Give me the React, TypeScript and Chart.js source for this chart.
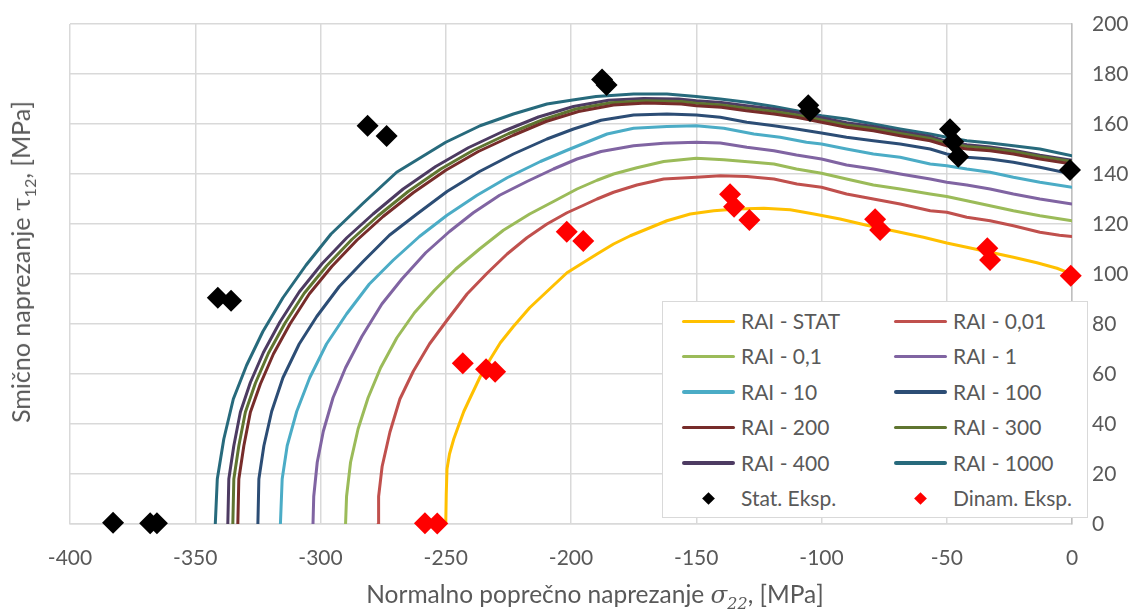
import React, { useEffect, useRef } from 'react';
import { Chart, registerables } from 'chart.js';

Chart.register(...registerables);

type P = [number, number];

// Axis ranges
const xRange: P = [-400, 0];
const yRange: P = [0, 200];
const xStep = 50;
const yStep = 20;

// Failure envelope curves (sigma22, tau12)
const raiStat: P[] = [
  [-250, 0], [-249.8, 12], [-249.5, 22], [-248.5, 28], [-246.8, 34], [-245, 39], [-242.8, 45], [-240, 51],
  [-236.2, 59], [-232.2, 66], [-228.2, 72.5], [-223, 79], [-216.5, 86.5], [-209.6, 93], [-201.6, 100.5],
  [-196, 104], [-189.6, 108], [-183, 112], [-176.3, 115.3], [-169.7, 118], [-161.7, 121.3], [-152.4, 124],
  [-143, 125.3], [-133.8, 126], [-123, 126.3], [-112.5, 125.7], [-103, 124], [-92.6, 122], [-82, 119.5],
  [-70, 117], [-59.3, 114.7], [-50, 112.4], [-42, 110.7], [-32.7, 108.7], [-23.4, 106.7], [-14, 104.5],
  [-6, 102.3], [0, 100],
];

const rai001: P[] = [
  [-277, 0], [-276.8, 11], [-275.4, 23], [-272.3, 36.7], [-268.3, 50], [-263, 61], [-256.5, 72], [-249.5, 81.5],
  [-241.5, 92], [-233.5, 100.3], [-225.5, 108], [-217.6, 114.5], [-209.6, 120], [-201.6, 124.5], [-195, 127.5],
  [-189.6, 130], [-183, 132.7], [-173.7, 135.6], [-163, 138], [-150, 138.7], [-140.4, 139.3], [-129.8, 139],
  [-119, 138], [-109.8, 136], [-100, 134.7], [-90, 132], [-79.3, 130], [-68.6, 128], [-56.6, 125.3],
  [-50, 124.7], [-42, 122.7], [-32.7, 121.3], [-23.4, 119.3], [-12.8, 116.7], [-5, 115.5], [0, 115],
];

const rai01: P[] = [
  [-290, 0], [-289.6, 11], [-288, 24.7], [-285, 38], [-281, 50.5], [-276, 62.5], [-269.5, 74.5], [-262.5, 84.5],
  [-254.5, 93.5], [-246, 102], [-236.5, 110], [-227, 117.5], [-216.5, 124], [-207, 129], [-197.6, 134],
  [-189.6, 137.5], [-183, 140], [-173.7, 142.5], [-163, 145], [-150, 146.3], [-139, 145.7], [-127, 144.7],
  [-119, 144], [-110, 142], [-100, 140.3], [-90, 138], [-79.3, 135.6], [-68.6, 134], [-56.6, 132], [-50, 131],
  [-42, 129.3], [-32.7, 127.3], [-23.4, 125.3], [-12.8, 123.3], [0, 121.3],
];

const rai1: P[] = [
  [-303, 0], [-302.7, 11], [-301.3, 24.7], [-298.9, 37], [-295, 50.5], [-290, 62.5], [-283.5, 75], [-275.5, 88],
  [-267.5, 98], [-258, 108.5], [-248.5, 117], [-239, 124.5], [-228.5, 131.5], [-217.6, 137], [-207, 142],
  [-197.6, 146], [-188, 149], [-175, 151.3], [-163, 152.3], [-150, 152.7], [-140.4, 152.4], [-129.8, 150.7],
  [-119, 149.3], [-110, 147.6], [-100, 146], [-90, 143.6], [-79.3, 142], [-68.6, 140], [-56.6, 138],
  [-50, 136.7], [-42, 135.6], [-32.7, 134], [-23.4, 132], [-12.8, 130], [0, 128],
];

const rai10: P[] = [
  [-316, 0], [-315.3, 18], [-313.3, 31.3], [-309.5, 45], [-304.3, 58.5], [-297.6, 72], [-289.6, 84], [-280.5, 96],
  [-271, 105.5], [-260.5, 115], [-249.5, 123.5], [-237.5, 131.5], [-225.5, 138.5], [-212.2, 145], [-201.6, 149.5],
  [-193, 153], [-185.6, 156], [-175, 158.3], [-161.7, 159], [-150, 159.3], [-139, 158.3], [-127, 156],
  [-116.5, 154.7], [-106, 152.7], [-100, 152], [-90, 150], [-79.3, 148], [-68.6, 146.7], [-56.6, 144],
  [-50, 143.3], [-42, 142], [-32.7, 140.7], [-23.4, 138.7], [-12.8, 136.7], [0, 134.7],
];

const rai100: P[] = [
  [-325, 0], [-324.6, 18], [-322.6, 31.3], [-319.5, 45], [-315, 58.5], [-308.5, 72], [-301.5, 83], [-292.5, 95],
  [-283, 105], [-272.5, 115.5], [-261.5, 124], [-249.5, 133], [-236.5, 141], [-223, 148], [-209.6, 154],
  [-199, 158], [-188, 161.5], [-175, 163.6], [-161.7, 164], [-150, 163.6], [-140.4, 162.7], [-129.8, 160.7],
  [-119, 159.3], [-110, 158], [-100, 156.4], [-90, 154.7], [-79.3, 153.3], [-68.6, 152], [-56.6, 150],
  [-50, 148], [-42, 146.7], [-32.7, 146], [-23.4, 144.7], [-12.8, 142.7], [0, 140],
];

const rai200: P[] = [
  [-333, 0], [-332.6, 18], [-330.6, 31.3], [-328, 44.7], [-324, 56], [-318.8, 68], [-312.2, 80], [-304.5, 92],
  [-295.5, 103], [-285.5, 113.5], [-275, 123], [-263, 132.5], [-250, 141.5], [-237, 149], [-223, 155.5],
  [-210, 161], [-197, 165], [-183, 167.6], [-170, 168.4], [-156, 168], [-150, 167.3], [-140, 166.7],
  [-130, 165.3], [-119, 164], [-110, 162.7], [-100, 160.7], [-90, 158.7], [-79.3, 157.3], [-68.6, 155.3],
  [-56.6, 153.3], [-50, 151.3], [-42, 150], [-32.7, 149.3], [-23.4, 148], [-12.8, 146], [0, 144],
];

const rai300: P[] = [
  [-335, 0], [-334.6, 18], [-332.6, 31.3], [-330, 44.7], [-326, 56.3], [-320.8, 68.3], [-314.2, 80.3],
  [-306.5, 92.3], [-297.5, 103.3], [-287.5, 113.8], [-277, 123.3], [-265, 133], [-252, 142], [-239, 149.5],
  [-225, 156.1], [-211, 161.8], [-198, 166], [-184, 168.5], [-170, 169.3], [-156, 169], [-150, 168.3],
  [-140, 167.6], [-130, 166.3], [-119, 165], [-110, 163.6], [-100, 161.6], [-90, 159.6], [-79.3, 158.2],
  [-68.6, 156.2], [-56.6, 154.2], [-50, 152.3], [-42, 151], [-32.7, 150.2], [-23.4, 149], [-12.8, 147], [0, 145],
];

const rai400: P[] = [
  [-337, 0], [-336.6, 18], [-334.6, 31.3], [-332, 44.7], [-328, 56.6], [-322.8, 68.6], [-316.2, 80.8],
  [-308.5, 92.8], [-299.5, 104], [-289.5, 114.5], [-279, 124], [-267, 134], [-254, 143], [-241, 150.5],
  [-227, 157.1], [-213, 162.8], [-199, 167], [-185, 169.5], [-171, 170.2], [-157, 170], [-150, 169.3],
  [-140, 168.6], [-130, 167.3], [-119, 166], [-110, 164.6], [-100, 162.5], [-90, 160.5], [-79.3, 159],
  [-68.6, 157], [-56.6, 155], [-50, 153], [-42, 151.7], [-32.7, 150.8], [-23.4, 149.5], [-12.8, 147.5], [0, 145.5],
];

const rai1000: P[] = [
  [-342, 0], [-341.2, 18], [-338.6, 34], [-334.8, 50], [-329.5, 63.5], [-323, 77], [-315, 90.5], [-305.8, 103.5],
  [-295.8, 116], [-283, 128.3], [-269.6, 140.7], [-250, 152.7], [-236.3, 159.3], [-223, 164], [-209.6, 168],
  [-200, 169.5], [-190, 171], [-175, 172], [-161.7, 172], [-150, 171], [-140.4, 170], [-129.8, 168.7],
  [-119, 167], [-110, 165.3], [-100, 163.3], [-90, 162], [-79.3, 160], [-68.6, 158], [-56.6, 156], [-50, 154.7],
  [-42, 153.3], [-32.7, 152.4], [-23.4, 151.3], [-12.8, 150], [0, 147.3],
];

// Experimental points
const statEksp: P[] = [
  [-382.8, 0.5], [-368, 0.3], [-365.3, 0.3], [-341, 90.5], [-335.7, 89.3], [-281.2, 159.3], [-273.6, 155.2],
  [-187.6, 177.8], [-185.8, 175.6], [-105.3, 167.5], [-104.6, 165.2], [-48.7, 157.9], [-47.4, 152.9],
  [-45.4, 146.9], [-0.8, 141.6],
];

const dinamEksp: P[] = [
  [-258.3, 0.3], [-253.4, 0.2], [-243.2, 64.3], [-233.9, 61.9], [-230.3, 60.9], [-201.7, 116.9], [-195.1, 113.2],
  [-136.5, 131.9], [-134.9, 126.9], [-128.8, 121.6], [-78.6, 121.9], [-76.6, 117.6], [-33.8, 110.3],
  [-32.7, 105.6], [-0.5, 99.3],
];

const seriesNames = [
  'RAI - STAT', 'RAI - 0,01', 'RAI - 0,1', 'RAI - 1', 'RAI - 10',
  'RAI - 100', 'RAI - 200', 'RAI - 300', 'RAI - 400', 'RAI - 1000',
];
const seriesColors = [
  '#FFC000', '#C0504D', '#9BBB59', '#8064A2', '#4BACC6',
  '#2C4D75', '#772C2A', '#5F7530', '#4D3B62', '#276A7C',
];
const seriesData: P[][] = [raiStat, rai001, rai01, rai1, rai10, rai100, rai200, rai300, rai400, rai1000];

const markerNames = ['Stat. Eksp.', 'Dinam. Eksp.'];
const markerColors = ['#000000', '#FF0000'];
const markerData: P[][] = [statEksp, dinamEksp];

const FONT = 'Lato, "Open Sans", sans-serif';
const TEXT = '#595959';

export default function App() {
  const ref = useRef<HTMLCanvasElement | null>(null);

  useEffect(() => {
    if (!ref.current) return;
    const datasets: any[] = [
      ...markerData.map((d, i) => ({
        label: markerNames[i],
        data: d.map(([x, y]) => ({ x, y })),
        showLine: false,
        pointStyle: 'rectRot',
        pointRadius: 11,
        pointHoverRadius: 11,
        pointBackgroundColor: markerColors[i],
        pointBorderWidth: 0,
        backgroundColor: markerColors[i],
        borderColor: markerColors[i],
        order: 0,
        clip: false,
      })),
      ...seriesData.map((d, i) => ({
        label: seriesNames[i],
        data: d.map(([x, y]) => ({ x, y })),
        showLine: true,
        borderColor: seriesColors[i],
        backgroundColor: seriesColors[i],
        borderWidth: 3,
        pointRadius: 0,
        tension: 0,
        fill: false,
        order: 1,
        borderCapStyle: 'round',
        borderJoinStyle: 'round',
      })),
    ];
    const chart = new Chart(ref.current, {
      type: 'scatter',
      data: { datasets },
      options: {
        responsive: false,
        animation: false,
        devicePixelRatio: 1,
        layout: { padding: { left: 70, top: 24, right: 0, bottom: 0 } },
        plugins: { legend: { display: false }, tooltip: { enabled: false }, title: { display: false } },
        scales: {
          x: {
            type: 'linear',
            position: 'bottom',
            min: xRange[0],
            max: xRange[1],
            ticks: { stepSize: xStep, font: { family: FONT, size: 21 }, color: TEXT, padding: 22, maxRotation: 0 },
            grid: { color: '#D9D9D9', lineWidth: 1.5, drawTicks: false },
            border: { display: true, color: '#D9D9D9', width: 1.5 },
            afterFit: (s: any) => { s.height = 86; s.paddingLeft = 0; s.paddingRight = 0; },
          },
          y: {
            type: 'linear',
            position: 'right',
            min: yRange[0],
            max: yRange[1],
            ticks: { stepSize: yStep, font: { family: FONT, size: 21 }, color: TEXT, padding: 20 },
            grid: { color: '#D9D9D9', lineWidth: 1.5, drawTicks: false },
            border: { display: true, color: '#BFBFBF', width: 1.5 },
            afterFit: (s: any) => { s.width = 62; s.paddingTop = 0; s.paddingBottom = 0; },
          },
        },
      } as any,
    });
    return () => chart.destroy();
  }, []);

  const legendItems = [
    ...seriesNames.map((n, i) => ({ name: n, color: seriesColors[i], kind: 'line' })),
    ...markerNames.map((n, i) => ({ name: n, color: markerColors[i], kind: 'marker' })),
  ];

  return (
    <div style={{ position: 'fixed', left: 0, top: 0, width: 1134, height: 610, background: '#fff', overflow: 'hidden', fontFamily: FONT }}>
      <canvas ref={ref} width={1134} height={610} style={{ position: 'absolute', left: 0, top: 0, width: 1134, height: 610 }} />
      <div
        style={{
          position: 'absolute', left: 662, top: 301, width: 426, height: 217, background: '#fff',
          border: '1px solid #D9D9D9', boxSizing: 'border-box',
        }}
      >
        {legendItems.map((it, i) => {
          const col = i % 2;
          const row = Math.floor(i / 2);
          const cy = 19 + row * 35.4;
          const lx = col === 0 ? 19 : 231;
          const tx = col === 0 ? 78 : 290;
          return (
            <React.Fragment key={it.name}>
              {it.kind === 'line' ? (
                <div style={{ position: 'absolute', left: lx, top: cy - 1.5, width: 53, height: 3.5, background: it.color, borderRadius: 2 }} />
              ) : (
                <div style={{ position: 'absolute', left: lx + 26.5 - 4.5, top: cy - 4.5, width: 9, height: 9, background: it.color, transform: 'rotate(45deg)' }} />
              )}
              <div style={{ position: 'absolute', left: tx, top: cy - 14, height: 28, lineHeight: '28px', fontSize: 21, color: TEXT, whiteSpace: 'nowrap' }}>
                {it.name}
              </div>
            </React.Fragment>
          );
        })}
      </div>
      <div
        style={{
          position: 'absolute', left: 595, top: 599, transform: 'translate(-50%, -50%)', whiteSpace: 'nowrap',
          fontSize: 24.5, color: TEXT, lineHeight: '28px',
        }}
      >
        Normalno poprečno naprezanje <i style={{ fontFamily: '"DejaVu Serif", serif' }}>σ</i>
        <sub style={{ fontSize: 16, fontStyle: 'italic', fontFamily: '"DejaVu Serif", serif' }}>22</sub>, [MPa]
      </div>
      <div
        style={{
          position: 'absolute', left: 25, top: 262, transform: 'translate(-50%, -50%) rotate(-90deg)', whiteSpace: 'nowrap',
          fontSize: 25, color: TEXT, lineHeight: '28px',
        }}
      >
        Smično naprezanje <span style={{ fontFamily: '"DejaVu Serif", serif' }}>τ</span>
        <sub style={{ fontSize: 16 }}>12</sub>, [MPa]
      </div>
    </div>
  );
}
